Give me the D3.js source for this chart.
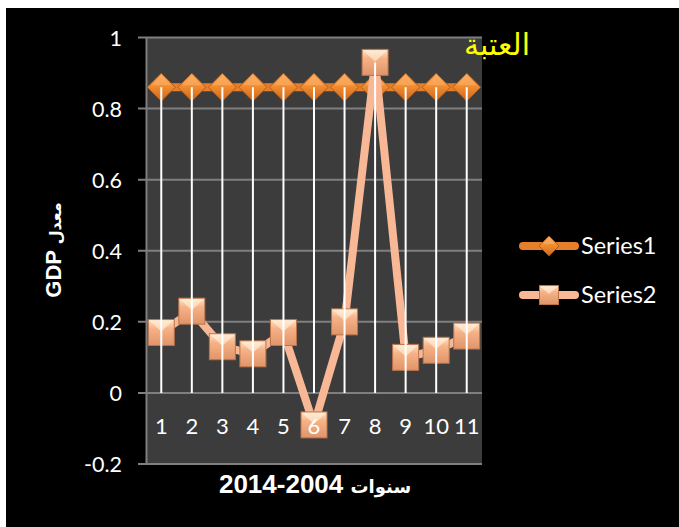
<!DOCTYPE html>
<html>
<head>
<meta charset="utf-8">
<script src="https://cdn.jsdelivr.net/npm/d3@7"></script>
<style>
  html, body { margin: 0; padding: 0; background: #fff; }
  svg { display: block; }
</style>
</head>
<body>
<div id="chart"></div>
<script>
// values
var categories = ["1", "2", "3", "4", "5", "6", "7", "8", "9", "10", "11"];
var series1 = [0.86, 0.86, 0.86, 0.86, 0.86, 0.86, 0.86, 0.86, 0.86, 0.86, 0.86];
var series2 = [0.17, 0.23, 0.13, 0.11, 0.17, -0.09, 0.2, 0.93, 0.1, 0.12, 0.16];
var yTicks = [-0.2, 0, 0.2, 0.4, 0.6, 0.8, 1];
var seriesNames = ["Series1", "Series2"];

var W = 679, H = 527;
var plot = {left: 146, right: 482, top: 37.5, bottom: 464};

var svg = d3.select("#chart").append("svg")
  .attr("width", W).attr("height", H);

var defs = svg.append("defs");
var gDia = defs.append("linearGradient").attr("id", "gDia")
  .attr("x1", 0).attr("y1", 0).attr("x2", 0).attr("y2", 1);
gDia.append("stop").attr("offset", "0%").attr("stop-color", "#fbaa5e");
gDia.append("stop").attr("offset", "50%").attr("stop-color", "#f08a2e");
gDia.append("stop").attr("offset", "100%").attr("stop-color", "#c9651c");
var gSq = defs.append("linearGradient").attr("id", "gSq")
  .attr("x1", 0).attr("y1", 0).attr("x2", 0).attr("y2", 1);
gSq.append("stop").attr("offset", "0%").attr("stop-color", "#ffe4c6");
gSq.append("stop").attr("offset", "35%").attr("stop-color", "#f6b286");
gSq.append("stop").attr("offset", "100%").attr("stop-color", "#e0946a");

// background
svg.append("rect").attr("x", 6).attr("y", 8).attr("width", W - 6).attr("height", H - 8)
  .attr("fill", "#000");

var x = d3.scaleBand().domain(categories).range([plot.left, plot.right]).padding(0);
var y = d3.scaleLinear().domain([-0.2, 1]).range([plot.bottom, plot.top]);
var cx = function(i) { return x(categories[i]) + x.bandwidth() / 2; };

svg.append("rect")
  .attr("x", plot.left).attr("y", plot.top)
  .attr("width", plot.right - plot.left).attr("height", plot.bottom - plot.top)
  .attr("fill", "#3c3c3c");

// gridlines
svg.append("g").selectAll("line").data(yTicks).enter().append("line")
  .attr("x1", plot.left - 8).attr("x2", plot.right)
  .attr("y1", function(d) { return y(d); }).attr("y2", function(d) { return y(d); })
  .attr("stroke", "#7f7f7f").attr("stroke-width", 2);

// y axis
var yAxis = d3.axisLeft(y).tickValues(yTicks).tickSize(0).tickPadding(24)
  .tickFormat(function(d) { return d3.format("")(+d.toFixed(1)).replace("−", "-"); });
var yg = svg.append("g").attr("transform", "translate(" + plot.left + ",0)").call(yAxis);
yg.select(".domain").attr("stroke", "#7f7f7f").attr("stroke-width", 2);
yg.selectAll("text").attr("fill", "#fff").style("font-family", "Lato, sans-serif")
  .style("font-size", "21.5px").attr("dy", "0.36em");

var line = d3.line()
  .x(function(d, i) { return cx(i); })
  .y(function(d) { return y(d); });

// Series1
svg.append("path").datum(series1).attr("d", line)
  .attr("fill", "none").attr("stroke", "#e67f2c").attr("stroke-width", 8);
function diamond(g, px, py, r) {
  g.append("path")
    .attr("d", "M" + px + "," + (py - r) + "L" + (px + r) + "," + py + "L" + px + "," + (py + r) + "L" + (px - r) + "," + py + "Z")
    .attr("fill", "url(#gDia)").attr("stroke", "#a9561a").attr("stroke-width", 0.8);
  g.append("path")
    .attr("d", "M" + px + "," + (py - r + 2) + "L" + (px + r - 4) + "," + (py - 2) + "L" + (px - r + 4) + "," + (py - 2) + "Z")
    .attr("fill", "#fcb36c").attr("opacity", 0.55);
}
var s1g = svg.append("g");
series1.forEach(function(v, i) { diamond(s1g, cx(i), y(v), 14); });

// Series2
svg.append("path").datum(series2).attr("d", line)
  .attr("fill", "none").attr("stroke", "#f8b896").attr("stroke-width", 8)
  .attr("stroke-linejoin", "round");
function square(g, px, py, h) {
  g.append("rect").attr("x", px - h).attr("y", py - h).attr("width", 2 * h).attr("height", 2 * h)
    .attr("fill", "url(#gSq)").attr("stroke", "#b9744c").attr("stroke-width", 1);
  g.append("path")
    .attr("d", "M" + (px - h + 1) + "," + (py - h + 1) + "L" + (px + h - 1) + "," + (py - h + 1) + "L" + px + "," + (py - 1) + "Z")
    .attr("fill", "#fff3e0").attr("opacity", 0.6);
}
var s2g = svg.append("g");
series2.forEach(function(v, i) { square(s2g, cx(i), y(v), 13); });

// drop lines
svg.append("g").selectAll("line").data(categories).enter().append("line")
  .attr("x1", function(d, i) { return cx(i); }).attr("x2", function(d, i) { return cx(i); })
  .attr("y1", function(d, i) { return y(Math.max(series1[i], series2[i])); })
  .attr("y2", y(0))
  .attr("stroke", "#fff").attr("stroke-width", 2);

// category labels (on top of the markers)
svg.append("g").selectAll("text").data(categories).enter().append("text")
  .attr("x", function(d) { return x(d) + x.bandwidth() / 2; })
  .attr("y", 434)
  .attr("text-anchor", "middle")
  .attr("fill", "#fff").style("font-family", "Lato, sans-serif").style("font-size", "22px")
  .text(function(d) { return d; });

// title
svg.append("text").attr("x", 497).attr("y", 55).attr("text-anchor", "middle")
  .attr("fill", "#ffff00").style("font-family", "'DejaVu Sans', sans-serif").style("font-size", "30px")
  .text("العتبة");

// axis titles
var yt = svg.append("text")
  .attr("transform", "translate(61,250) rotate(-90)")
  .attr("text-anchor", "middle").attr("fill", "#fff")
  .style("font-family", "'Liberation Sans', 'DejaVu Sans', sans-serif").style("font-weight", "bold");
yt.append("tspan").style("font-size", "22px").text("GDP ");
yt.append("tspan").style("font-size", "16px").text("معدل");

var xt = svg.append("text").attr("x", 315).attr("y", 493).attr("text-anchor", "middle").attr("fill", "#fff")
  .style("font-family", "'Liberation Sans', 'DejaVu Sans', sans-serif").style("font-weight", "bold");
xt.append("tspan").style("font-size", "26px").text("2014-2004 ");
xt.append("tspan").style("font-size", "18px").text("سنوات");

// legend
var lg = svg.append("g");
var legY = [246, 295];
lg.append("line").attr("x1", 523).attr("x2", 575).attr("y1", legY[0]).attr("y2", legY[0])
  .attr("stroke", "#e67f2c").attr("stroke-width", 8).attr("stroke-linecap", "round");
diamond(lg, 549, legY[0], 10);
lg.append("line").attr("x1", 523).attr("x2", 575).attr("y1", legY[1]).attr("y2", legY[1])
  .attr("stroke", "#f8b896").attr("stroke-width", 8).attr("stroke-linecap", "round");
square(lg, 549, legY[1], 9.5);
lg.selectAll("text.leg").data(seriesNames).enter().append("text")
  .attr("x", 581).attr("y", function(d, i) { return legY[i] + 8; })
  .attr("fill", "#fff").style("font-family", "Lato, sans-serif").style("font-size", "23.5px")
  .text(function(d) { return d; });
</script>
</body>
</html>
